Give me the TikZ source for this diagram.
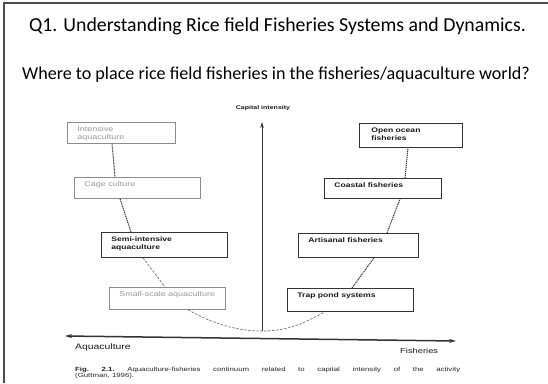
\documentclass[tikz,border=0pt]{standalone}
\usepackage{fontspec}
\setmainfont{Carlito}
\newfontfamily\figfont[FakeStretch=1.3]{Liberation Sans}
\usetikzlibrary{arrows.meta}

% top-aligned text block inside a fixed-size box
\newcommand\boxtxt[3]{\parbox[t][#2][t]{#1}{\raggedright #3}}

\begin{document}
\begin{tikzpicture}[x=1pt,y=-1pt,
  slidetext/.style={inner sep=0pt},
  stage/.style={draw=black!80, line width=0.8pt, anchor=north west,
    inner xsep=10pt, inner ysep=4.5pt, text=black!90,
    font=\figfont\bfseries\fontsize{6.6}{7.6}\selectfont},
  faint/.style={stage, draw=black!45, text=black!40, font=\figfont\fontsize{6.9}{7.6}\selectfont},
  link/.style={draw=black!80, line width=1pt, dash pattern=on 1.2pt off 0.8pt},
  curve/.style={draw=black!55, line width=0.7pt, dash pattern=on 2.5pt off 1.5pt},
  axislabel/.style={text=black!90, inner sep=0pt},
]
\useasboundingbox (0,0) rectangle (548,383);
\fill[white] (0,0) rectangle (548,383);

% slide frame
\draw[line width=2pt, black!70] (4,383) -- (4,3) -- (548,3);

% slide headings
\node[slidetext, font=\fontsize{19.8}{22}\selectfont] (title) at (277.5,26) {Q1. Understanding Rice field Fisheries Systems and Dynamics.};
\node[slidetext, font=\fontsize{18.1}{21}\selectfont] (question) at (276,75) {Where to place rice field fisheries in the fisheries/aquaculture world?};

% aquaculture side
\node[faint] (ia) at (67,122) {\boxtxt{88pt}{12pt}{Intensive\\aquaculture}};
\node[faint] (cc) at (74,177) {\boxtxt{106pt}{12pt}{Cage culture}};
\node[stage] (si) at (101,232) {\boxtxt{106pt}{16pt}{Semi-intensive\\aquaculture}};
\node[faint] (ss) at (109,287) {\boxtxt{96pt}{13pt}{Small-scale aquaculture}};

% fisheries side
\node[stage, inner xsep=12pt] (oo) at (359,123) {\boxtxt{79pt}{15pt}{Open ocean\\fisheries}};
\node[stage] (cf) at (324,178) {\boxtxt{97pt}{11pt}{Coastal fisheries}};
\node[stage] (af) at (298,233) {\boxtxt{100pt}{15pt}{Artisanal fisheries}};
\node[stage] (tp) at (287,288) {\boxtxt{106pt}{14pt}{Trap pond systems}};

% axes
\coordinate (base) at (262,331);
\coordinate (captop) at (262,122);
\coordinate (axL) at (65,336);
\coordinate (axR) at (456,341);
\draw[black!80, line width=0.7pt, -{Stealth[length=6pt,width=3.6pt]}] (base) -- (captop);
\draw[black!80, line width=1.5pt, {Stealth[length=7pt,width=4pt]}-{Stealth[length=7pt,width=4pt]}] (axL) -- (axR);

\node[axislabel, font=\figfont\bfseries\fontsize{5.4}{7}\selectfont] (cap) at (263,108) {Capital intensity};
\node[axislabel, anchor=west, font=\figfont\fontsize{8}{9}\selectfont] (aqua) at (75,347) {Aquaculture};
\node[axislabel, anchor=west, font=\figfont\fontsize{7.2}{9}\selectfont] (fish) at (400,351) {Fisheries};

% continuum links
\draw[link, dash pattern=on 0.8pt off 0.7pt] ([xshift=45pt]ia.south west) -- ([xshift=41pt]cc.north west);
\draw[link] ([xshift=46pt]cc.south west) -- ([xshift=30pt]si.north west);
\draw[curve] ([xshift=42pt]si.south west) -- ([xshift=56pt]ss.north west);
\draw[curve] ([xshift=79pt]ss.south west) .. controls +(25,14) and +(-25,0) .. (base)
  .. controls +(25,0) and +(-22,12) .. ([xshift=38pt]tp.south west);
\draw[link] ([xshift=65pt]tp.north west) -- ([xshift=76pt]af.south west);
\draw[link] ([xshift=89pt]af.north west) -- ([xshift=76pt]cf.south west);
\draw[link] ([xshift=81pt]cf.north west) -- ([xshift=49pt]oo.south west);

% figure caption
\node[anchor=north west, inner sep=0pt, text=black!85] (caption) at (75,366.5)
  {\parbox{385pt}{\frenchspacing\figfont\fontsize{6}{5.6}\selectfont
   \textbf{Fig. 2.1.} Aquaculture-fisheries continuum related to capital intensity of the activity\linebreak
   (Guttman, 1996).}};
\end{tikzpicture}
\end{document}
